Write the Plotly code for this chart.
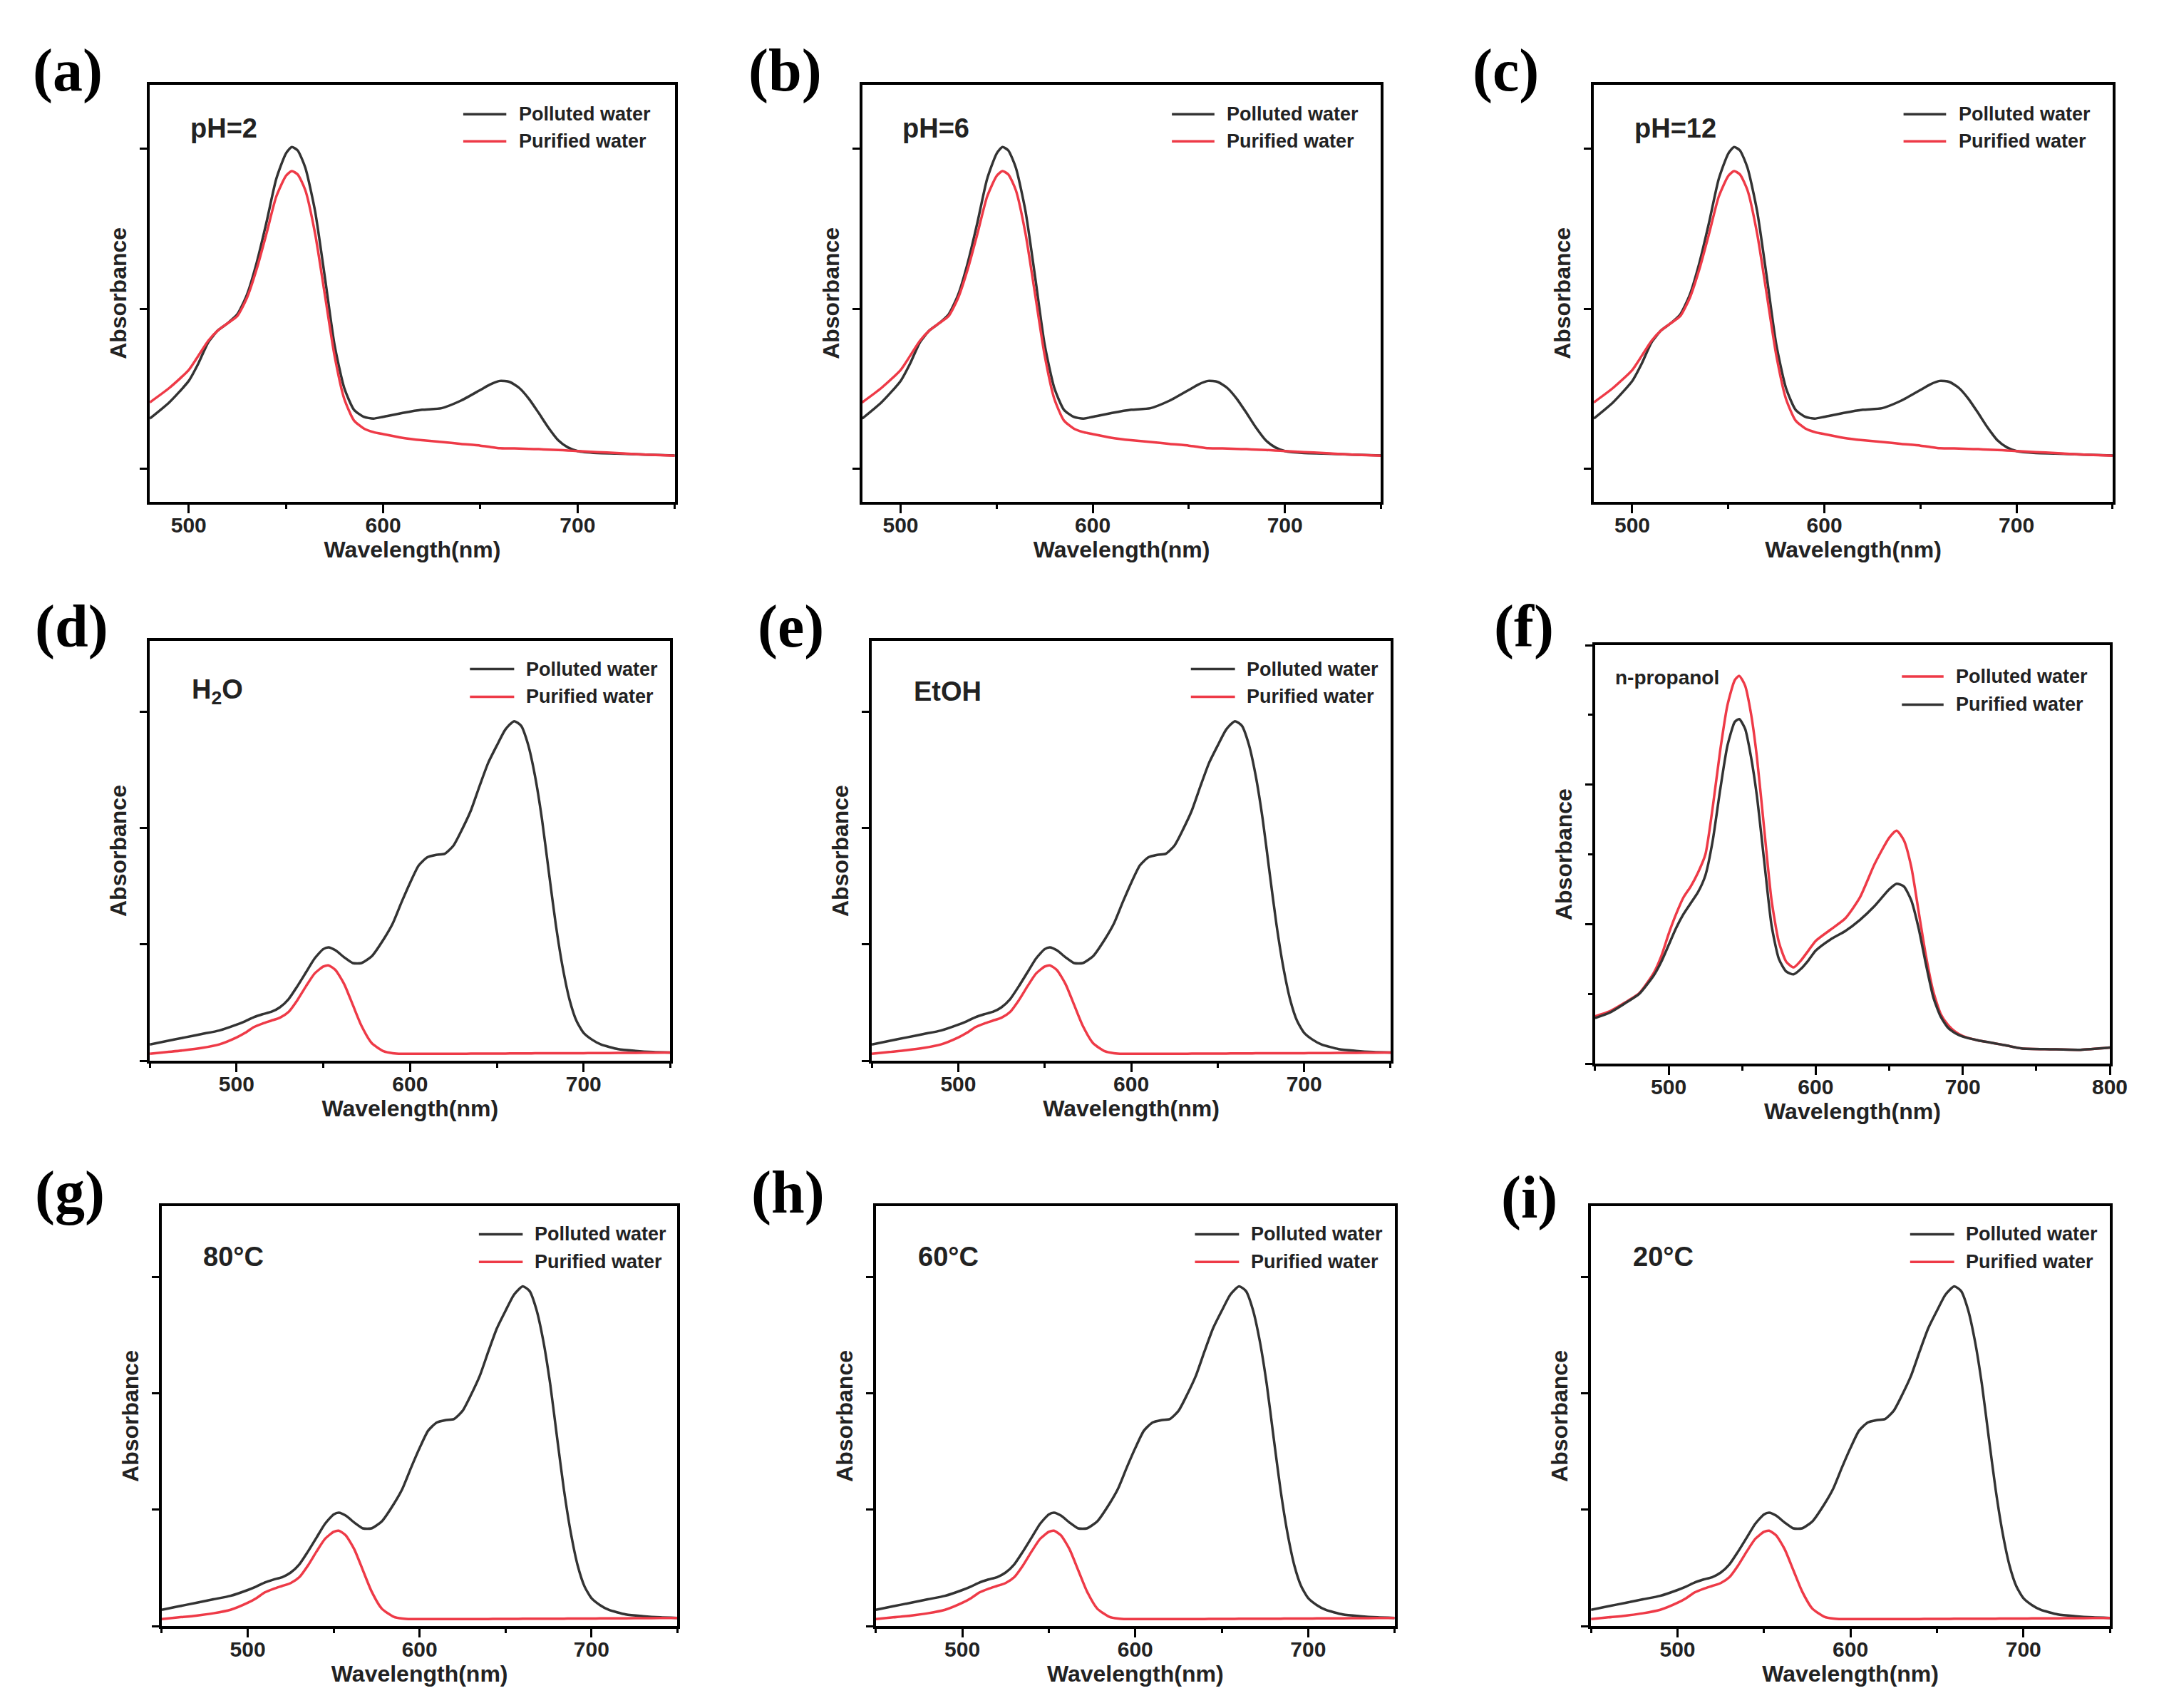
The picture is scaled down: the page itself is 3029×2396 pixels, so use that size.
import plotly.graph_objects as go

# ---- data (absorbance, arbitrary units) ----

# pH series (a, b, c): same spectra in all three panels
wl_ph = [480, 490, 500, 505, 510, 515, 520, 525, 530, 535, 540, 545, 550, 553, 556, 560, 565, 570,
         575, 580, 585, 590, 595, 600, 610, 620, 630, 640, 650, 655, 660, 665, 670, 675, 680, 685,
         690, 695, 700, 710, 720, 735, 750]
ph_polluted = [0.315, 0.416, 0.55, 0.66, 0.79, 0.865, 0.91, 0.966, 1.09, 1.29, 1.54, 1.81, 1.97, 2.01,
               1.99, 1.88, 1.61, 1.20, 0.775, 0.506, 0.37, 0.326, 0.315, 0.326, 0.35, 0.37, 0.38, 0.427,
               0.494, 0.528, 0.55, 0.544, 0.506, 0.438, 0.35, 0.258, 0.18, 0.135, 0.112, 0.10, 0.097,
               0.09, 0.085]
ph_purified = [0.416, 0.506, 0.618, 0.708, 0.80, 0.865, 0.91, 0.955, 1.07, 1.25, 1.47, 1.70, 1.83, 1.86,
               1.84, 1.74, 1.47, 1.09, 0.708, 0.438, 0.303, 0.254, 0.231, 0.218, 0.195, 0.18, 0.169,
               0.157, 0.146, 0.138, 0.13, 0.129, 0.128, 0.126, 0.124, 0.121, 0.119, 0.116, 0.112, 0.106,
               0.10, 0.09, 0.083]

# solvent / temperature series (d, e, g, h, i)
wl_mb = [450, 460, 470, 480, 490, 500, 505, 510, 515, 520, 525, 530, 535, 540, 545, 550, 553, 557, 562,
         567, 572, 578, 585, 590, 595, 600, 605, 610, 615, 620, 625, 630, 635, 640, 645, 650, 655, 660,
         664, 668, 672, 676, 680, 684, 688, 692, 696, 700, 705, 710, 720, 730, 740, 750]
mb_polluted = [0.14, 0.17, 0.20, 0.23, 0.26, 0.31, 0.34, 0.375, 0.40, 0.42, 0.46, 0.53, 0.64, 0.76, 0.88,
               0.96, 0.975, 0.95, 0.89, 0.84, 0.84, 0.90, 1.05, 1.18, 1.36, 1.53, 1.68, 1.75, 1.77, 1.78,
               1.85, 1.99, 2.15, 2.36, 2.56, 2.71, 2.85, 2.92, 2.88, 2.72, 2.45, 2.08, 1.62, 1.17, 0.80,
               0.52, 0.34, 0.24, 0.18, 0.14, 0.10, 0.085, 0.075, 0.07]
mb_purified = [0.06, 0.075, 0.09, 0.11, 0.14, 0.20, 0.24, 0.29, 0.32, 0.345, 0.37, 0.42, 0.52, 0.64, 0.75,
               0.81, 0.82, 0.78, 0.66, 0.48, 0.30, 0.15, 0.08, 0.065, 0.06, 0.06, 0.06, 0.06, 0.06, 0.06,
               0.06, 0.06, 0.061, 0.061, 0.062, 0.062, 0.062, 0.063, 0.063, 0.063, 0.064, 0.064, 0.064,
               0.064, 0.065, 0.065, 0.065, 0.065, 0.066, 0.066, 0.067, 0.068, 0.069, 0.07]

# n-propanol (f)
wl_prop = [450, 460, 470, 480, 490, 495, 500, 505, 510, 515, 520, 525, 530, 535, 540, 545, 548, 552, 556,
           560, 565, 570, 575, 580, 585, 590, 595, 600, 610, 620, 630, 640, 650, 655, 660, 665, 670, 675,
           680, 685, 690, 695, 700, 710, 720, 730, 740, 760, 780, 800]
prop_polluted = [0.34, 0.376, 0.436, 0.505, 0.653, 0.77, 0.93, 1.07, 1.19, 1.27, 1.37, 1.50, 1.84, 2.24,
                 2.57, 2.75, 2.78, 2.71, 2.51, 2.20, 1.68, 1.17, 0.87, 0.73, 0.69, 0.74, 0.81, 0.88, 0.96,
                 1.04, 1.19, 1.43, 1.62, 1.67, 1.60, 1.41, 1.09, 0.77, 0.515, 0.356, 0.277, 0.228, 0.198,
                 0.168, 0.149, 0.129, 0.109, 0.103, 0.099, 0.115]
prop_purified = [0.327, 0.366, 0.43, 0.50, 0.634, 0.73, 0.85, 0.97, 1.07, 1.15, 1.23, 1.35, 1.60, 1.96,
                 2.28, 2.45, 2.47, 2.40, 2.20, 1.92, 1.45, 0.99, 0.75, 0.66, 0.64, 0.68, 0.74, 0.81, 0.89,
                 0.95, 1.03, 1.13, 1.25, 1.29, 1.27, 1.17, 0.97, 0.71, 0.475, 0.337, 0.257, 0.218, 0.194,
                 0.168, 0.149, 0.129, 0.109, 0.103, 0.099, 0.115]

panel_labels = ['(a)', '(b)', '(c)', '(d)', '(e)', '(f)', '(g)', '(h)', '(i)']
panel_notes = ['pH=2', 'pH=6', 'pH=12', 'H<sub>2</sub>O', 'EtOH', 'n-propanol', '80°C', '60°C', '20°C']
series_names = ['Polluted water', 'Purified water']

BLACK = '#333333'
RED = '#ee3a47'
W, H = 3029, 2396
SANS = 'Liberation Sans, Arial, sans-serif'

# panel frames in paper coords: (x0, x1, y0, y1)
domains = [
    (0.0673, 0.3125, 0.7095, 0.9538), (0.4000, 0.6423, 0.7095, 0.9538), (0.7417, 0.9840, 0.7095, 0.9538),
    (0.0673, 0.3104, 0.3823, 0.6281), (0.4045, 0.6468, 0.3823, 0.6281), (0.7423, 0.9827, 0.3806, 0.6256),
    (0.0729, 0.3137, 0.0513, 0.2972), (0.4064, 0.6487, 0.0513, 0.2972), (0.7404, 0.9827, 0.0513, 0.2972),
]
label_pos = [(0.0288, 0.9620), (0.3641, 0.9620), (0.7006, 0.9620),
             (0.0308, 0.6365), (0.3667, 0.6365), (0.7090, 0.6365),
             (0.0301, 0.3050), (0.3654, 0.3050), (0.7115, 0.3020)]

panels = []
for i in range(9):
    if i < 3:
        panels.append(dict(wl=wl_ph, ys=[ph_polluted, ph_purified], colors=[BLACK, RED],
                           xr=[480, 750], yr=[-0.205, 2.40], yt=[0, 1, 2], yminor=False,
                           xt=[500, 600, 700], leg=(0.597, 0.679, 0.70, 0.929, 0.864),
                           note=(0.075, 0.895)))
    elif i == 5:
        panels.append(dict(wl=wl_prop, ys=[prop_polluted, prop_purified], colors=[RED, BLACK],
                           xr=[450, 800], yr=[0, 3], yt=[0, 1, 2, 3], yminor=True,
                           xt=[500, 600, 700, 800], leg=(0.596, 0.677, 0.698, 0.925, 0.858),
                           note=(0.036, 0.922)))
    else:
        panels.append(dict(wl=wl_mb, ys=[mb_polluted, mb_purified], colors=[BLACK, RED],
                           xr=[450, 750], yr=[0, 3.61], yt=[0, 1, 2, 3], yminor=False,
                           xt=[500, 600, 700], leg=(0.615, 0.70, 0.72, 0.933, 0.867),
                           note=(0.078, 0.88)))

fig = go.Figure()
layout = dict(width=W, height=H, margin=dict(l=0, r=0, t=0, b=0),
              paper_bgcolor='white', plot_bgcolor='white', showlegend=False)
annotations = []
shapes = []
leg_font = dict(family=SANS, size=27, color='#222', weight='bold')

for i, p in enumerate(panels):
    n = '' if i == 0 else str(i + 1)
    x0, x1, y0, y1 = domains[i]
    for name, y, col in zip(series_names, p['ys'], p['colors']):
        fig.add_trace(go.Scatter(x=p['wl'], y=y, mode='lines', name=name,
                                 line=dict(color=col, width=3.5, shape='spline', smoothing=0.6),
                                 xaxis='x' + n, yaxis='y' + n))
    axis_font = dict(family=SANS, size=32, color='#222', weight='bold')
    layout['xaxis' + n] = dict(
        domain=[x0, x1], anchor='y' + n, range=p['xr'], tickvals=p['xt'],
        showline=True, linecolor='black', linewidth=3.5, mirror=True,
        ticks='outside', ticklen=12, tickwidth=3, tickcolor='black', ticklabelstandoff=-9,
        minor=dict(ticks='outside', ticklen=6, tickwidth=3, tickcolor='black', dtick=50, tick0=0),
        showgrid=False, zeroline=False,
        tickfont=dict(family=SANS, size=30, color='#222', weight='bold'),
        title=dict(text='Wavelength(nm)', font=axis_font, standoff=0))
    ydict = dict(
        domain=[y0, y1], anchor='x' + n, range=p['yr'], tickvals=p['yt'],
        showline=True, linecolor='black', linewidth=3.5, mirror=True,
        ticks='outside', ticklen=10, tickwidth=3, tickcolor='black',
        showticklabels=False, showgrid=False, zeroline=False,
        title=dict(text='Absorbance', font=axis_font, standoff=10))
    if p['yminor']:
        ydict['minor'] = dict(ticks='outside', ticklen=6, tickwidth=3, tickcolor='black', dtick=0.5, tick0=0)
    layout['yaxis' + n] = ydict

    # legend drawn in the upper right of each frame: sample line + label
    sx0, sx1, tx, ry1, ry2 = p['leg']
    for name, col, ry in zip(series_names, p['colors'], [ry1, ry2]):
        shapes.append(dict(type='line', xref='x' + n + ' domain', yref='y' + n + ' domain',
                           x0=sx0, x1=sx1, y0=ry, y1=ry, line=dict(color=col, width=3.5)))
        annotations.append(dict(text=name, x=tx, y=ry, xref='x' + n + ' domain',
                                yref='y' + n + ' domain', xanchor='left', yanchor='middle',
                                showarrow=False, font=leg_font))

    nx, ny = p['note']
    annotations.append(dict(text=panel_notes[i], x=nx, y=ny, xref='x' + n + ' domain',
                            yref='y' + n + ' domain', xanchor='left', yanchor='middle', showarrow=False,
                            font=dict(family=SANS, size=38 if i != 5 else 28, color='#222', weight='bold')))
    px, py = label_pos[i]
    annotations.append(dict(text=panel_labels[i], x=px, y=py, xref='paper', yref='paper',
                            xanchor='center', yanchor='middle', showarrow=False,
                            font=dict(family='Liberation Serif, Times New Roman, serif', size=84,
                                      color='black', weight='bold')))

layout['annotations'] = annotations
layout['shapes'] = shapes
fig.update_layout(**layout)
fig.write_html("out.html")
